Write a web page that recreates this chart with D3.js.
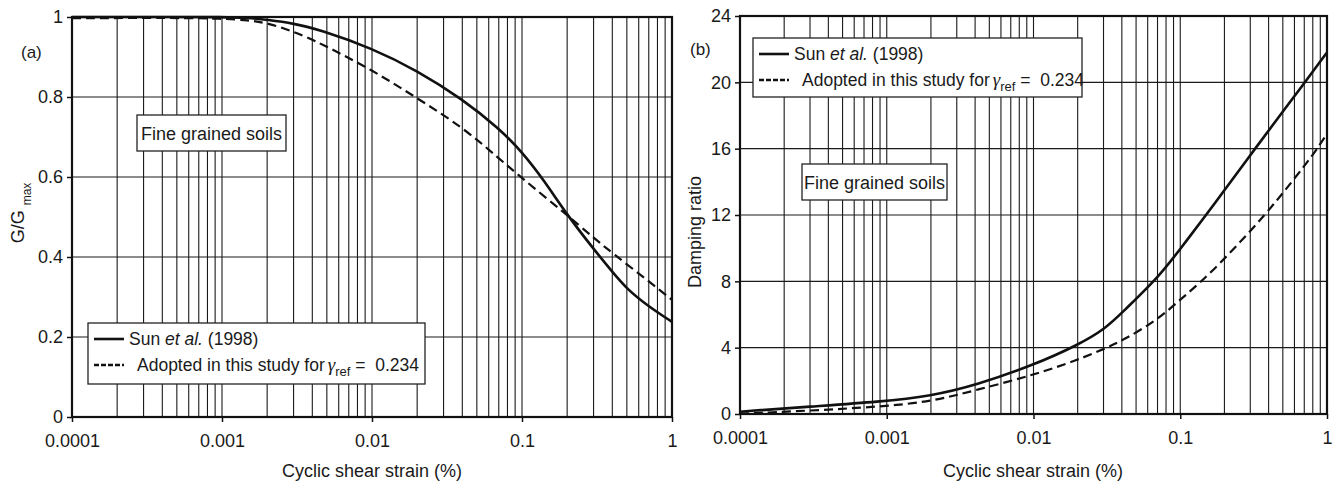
<!DOCTYPE html>
<html><head><meta charset="utf-8">
<script src="https://cdn.jsdelivr.net/npm/d3@7"></script>
<style>
body{margin:0;background:#fff}
svg{display:block}
text{font-family:"Liberation Sans",Arial,Helvetica,sans-serif;fill:#1a1a1a}
</style>
</head><body>
<svg id="c" width="1335" height="487"></svg>
<script>
// ---- data ----
const xTickValues = [0.0001, 0.001, 0.01, 0.1, 1];
const xTickLabels = ["0.0001", "0.001", "0.01", "0.1", "1"];
const gTickValues = [0, 0.2, 0.4, 0.6, 0.8, 1];
const gTickLabels = ["0", "0.2", "0.4", "0.6", "0.8", "1"];
const dTickValues = [0, 4, 8, 12, 16, 20, 24];
const dTickLabels = ["0", "4", "8", "12", "16", "20", "24"];

const sunGStrain = [0.0001, 0.0005, 0.001, 0.0015, 0.002, 0.003, 0.0045, 0.01, 0.02, 0.04, 0.07, 0.1, 0.14, 0.2, 0.3, 0.4, 0.5, 0.7, 1];
const sunG       = [1.0, 1.0, 1.0, 0.998, 0.993, 0.984, 0.968, 0.922, 0.866, 0.795, 0.722, 0.663, 0.592, 0.505, 0.42, 0.363, 0.32, 0.276, 0.238];
const adoptGStrain = [0.0001, 0.0005, 0.001, 0.0015, 0.002, 0.003, 0.0045, 0.01, 0.02, 0.04, 0.07, 0.1, 0.2, 0.3, 0.4, 0.68, 1];
const adoptG       = [0.997, 0.998, 0.996, 0.992, 0.985, 0.964, 0.935, 0.868, 0.797, 0.725, 0.647, 0.597, 0.505, 0.448, 0.41, 0.343, 0.293];

const sunDStrain = [0.0001, 0.0003, 0.0009, 0.002, 0.0041, 0.01, 0.02, 0.031, 0.041, 0.07, 0.1, 0.15, 0.2, 0.3, 0.4, 0.7, 1];
const sunD       = [0.14, 0.45, 0.74, 1.08, 1.75, 2.95, 4.15, 5.15, 6.2, 8.18, 9.95, 12.0, 13.5, 15.6, 17.1, 19.95, 21.8];
const adoptDStrain = [0.0001, 0.0003, 0.0009, 0.002, 0.0041, 0.01, 0.02, 0.031, 0.041, 0.07, 0.1, 0.14, 0.2, 0.38, 0.6, 0.8, 1];
const adoptD       = [0.02, 0.2, 0.44, 0.74, 1.45, 2.35, 3.26, 3.96, 4.46, 5.67, 6.9, 8.0, 9.35, 12.0, 14.2, 15.6, 16.9];

const seriesNames = ["Sun ", "et al.", " (1998)"];
const adoptedText = "Adopted in this study for";
const gammaRef = "0.234";
const xTitle = "Cyclic shear strain (%)";
const boxLabel = "Fine grained soils";

// ---- drawing ----
const svg = d3.select("#c");
const FS = 18;
const LFS = 17.5;

function panel(cfg) {
  const g = svg.append("g");
  const x = d3.scaleLog().domain([0.0001, 1]).range([cfg.x0, cfg.x1]);
  const y = d3.scaleLinear().domain(cfg.yDomain).range([cfg.yb, cfg.yt]);

  g.append("g").selectAll("line").data(x.ticks()).join("line")
    .attr("x1", d => x(d)).attr("x2", d => x(d))
    .attr("y1", cfg.yt).attr("y2", cfg.yb)
    .attr("stroke", "#1a1a1a").attr("stroke-width", 1.1);
  g.append("g").selectAll("line").data(cfg.yTicks).join("line")
    .attr("x1", cfg.x0).attr("x2", cfg.x1)
    .attr("y1", d => y(d)).attr("y2", d => y(d))
    .attr("stroke", "#1a1a1a").attr("stroke-width", 1.1);

  const line = d3.line().x(d => x(d[0])).y(d => y(d[1])).curve(d3.curveBasis);
  const solid = cfg.sx.map((s, i) => [s, cfg.sy[i]]);
  const dashed = cfg.dx.map((s, i) => [s, cfg.dy[i]]);
  g.append("path").attr("d", line(dashed)).attr("fill", "none")
    .attr("stroke", "#111").attr("stroke-width", 2.2).attr("stroke-dasharray", "9,5");
  g.append("path").attr("d", line(solid)).attr("fill", "none")
    .attr("stroke", "#111").attr("stroke-width", 2.6);

  g.append("rect").attr("x", cfg.x0).attr("y", cfg.yt)
    .attr("width", cfg.x1 - cfg.x0).attr("height", cfg.yb - cfg.yt)
    .attr("fill", "none").attr("stroke", "#111").attr("stroke-width", 2.2);

  const ax = g.append("g").attr("transform", `translate(0,${cfg.yb})`)
    .call(d3.axisBottom(x).tickValues(xTickValues).tickFormat((d, i) => xTickLabels[i]).tickSize(5).tickSizeOuter(0));
  ax.select(".domain").remove();
  ax.selectAll("line").attr("stroke", "#111").attr("stroke-width", 1.5);
  ax.selectAll("text").attr("font-size", FS).attr("dy", null).attr("y", 30).style("fill", "#1a1a1a");
  ax.attr("font-family", null);

  const ay = g.append("g").attr("transform", `translate(${cfg.x0},0)`)
    .call(d3.axisLeft(y).tickValues(cfg.yTicks).tickFormat((d, i) => cfg.yLabels[i]).tickSize(5).tickSizeOuter(0));
  ay.select(".domain").remove();
  ay.selectAll("line").attr("stroke", "#111").attr("stroke-width", 1.5);
  ay.selectAll("text").attr("font-size", FS).attr("x", -9).style("fill", "#1a1a1a");
  ay.attr("font-family", null);

  g.append("text").attr("x", cfg.xtX).attr("y", cfg.xtY).attr("text-anchor", "middle")
    .attr("font-size", FS).text(xTitle);

  g.append("text").attr("x", cfg.letterX).attr("y", cfg.letterY).attr("font-size", 17).text(cfg.letter);

  const fb = cfg.fbox;
  g.append("rect").attr("x", fb[0]).attr("y", fb[1]).attr("width", fb[2]).attr("height", fb[3])
    .attr("fill", "#fff").attr("stroke", "#222").attr("stroke-width", 1.3);
  g.append("text").attr("x", fb[0] + fb[2] / 2).attr("y", fb[1] + fb[3] / 2 + 6.5)
    .attr("text-anchor", "middle").attr("font-size", FS).text(boxLabel);

  const lb = cfg.lbox;
  g.append("rect").attr("x", lb[0]).attr("y", lb[1]).attr("width", lb[2]).attr("height", lb[3])
    .attr("fill", "#fff").attr("stroke", "#222").attr("stroke-width", 1.3);
  const r1 = lb[1] + 16, r2 = lb[1] + 42;
  g.append("line").attr("x1", lb[0] + 6).attr("x2", lb[0] + 36).attr("y1", r1).attr("y2", r1)
    .attr("stroke", "#111").attr("stroke-width", 2.6);
  g.append("line").attr("x1", lb[0] + 6).attr("x2", lb[0] + 36).attr("y1", r2).attr("y2", r2)
    .attr("stroke", "#111").attr("stroke-width", 2.6).attr("stroke-dasharray", "5,2");
  const t1 = g.append("text").attr("x", lb[0] + 41).attr("y", r1 + 6).attr("font-size", LFS);
  t1.append("tspan").text(seriesNames[0]);
  t1.append("tspan").attr("font-style", "italic").text(seriesNames[1]);
  t1.append("tspan").text(seriesNames[2]);
  const t2 = g.append("text").attr("x", lb[0] + 49).attr("y", r2 + 6).attr("font-size", LFS);
  t2.append("tspan").text(adoptedText);
  t2.append("tspan").attr("dx", 3).attr("font-style", "italic").attr("font-family", "'Liberation Serif','DejaVu Serif',serif").attr("font-size", 19).text("γ");
  t2.append("tspan").attr("font-size", 13).attr("dy", 5).text("ref");
  t2.append("tspan").attr("dy", -5).text("\u00a0=\u00a0\u00a0" + gammaRef);
}

panel({
  x0: 72, x1: 672, yt: 17, yb: 417, yDomain: [0, 1],
  yTicks: gTickValues, yLabels: gTickLabels,
  sx: sunGStrain, sy: sunG, dx: adoptGStrain, dy: adoptG,
  xtX: 372, xtY: 477, letter: "(a)", letterX: 21, letterY: 58,
  fbox: [137, 115, 149, 36], lbox: [88, 323, 337, 61]
});
panel({
  x0: 740, x1: 1327, yt: 16, yb: 414, yDomain: [0, 24],
  yTicks: dTickValues, yLabels: dTickLabels,
  sx: sunDStrain, sy: sunD, dx: adoptDStrain, dy: adoptD,
  xtX: 1033, xtY: 477, letter: "(b)", letterX: 690, letterY: 55,
  fbox: [802, 164, 145, 36], lbox: [753, 38, 329, 59]
});

const yl = svg.append("text").attr("transform", "translate(24,213) rotate(-90)")
  .attr("text-anchor", "middle").attr("font-size", FS);
yl.append("tspan").text("G/G ");
yl.append("tspan").attr("font-size", 12).attr("dy", 7).text("max");
svg.append("text").attr("transform", "translate(701,232) rotate(-90)")
  .attr("text-anchor", "middle").attr("font-size", FS).text("Damping ratio");
</script>
</body></html>
